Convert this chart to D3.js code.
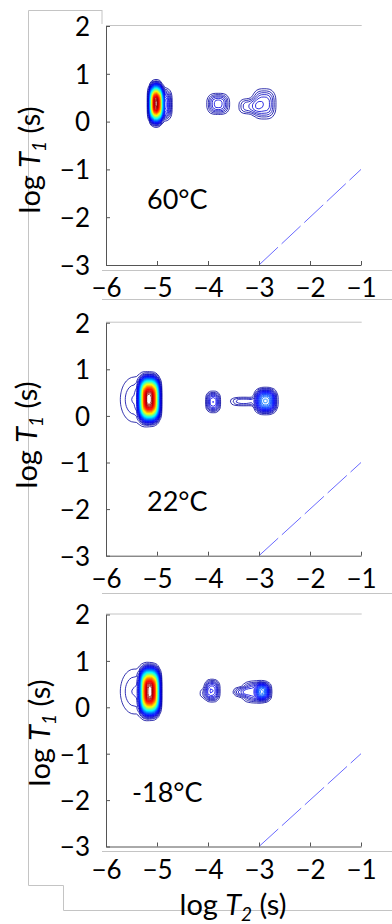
<!DOCTYPE html>
<html>
<head>
<meta charset="utf-8">
<script src="https://cdn.jsdelivr.net/npm/d3@7"></script>
<style>
  body { margin: 0; background: #fff; }
  svg { display: block; font-family: Lato, "Open Sans", sans-serif; }
</style>
</head>
<body>
<div id="chart"></div>
<script>
// axis ticks (log10 of seconds)
const t2Ticks = [-6, -5, -4, -3, -2, -1];
const t1Ticks = [-3, -2, -1, 0, 1, 2];
const temperatures = ['60°C', '22°C', '-18°C'];

// peak components:
// [logT2, logT1, spreadT2, spreadT1, amplitude, shape exponent]
const peaks60 = [
  [-5.02, 0.38, 0.08, 0.25, 1.0, 3],
  [-4.86, 0.36, 0.1, 0.22, 0.14, 3],
  [-3.8, 0.37, 0.15, 0.15, 0.1, 3],
  [-3.2, 0.32, 0.15, 0.12, 0.06, 3],
  [-2.9, 0.37, 0.16, 0.22, 0.09, 3]
];
const peaks22 = [
  [-5.15, 0.36, 0.13, 0.31, 1.0, 3.3],
  [-5.45, 0.35, 0.2, 0.36, 0.05, 2],
  [-3.9, 0.3, 0.095, 0.15, 0.12, 3],
  [-3.3, 0.31, 0.2, 0.07, 0.06, 3],
  [-2.87, 0.32, 0.14, 0.17, 0.25, 3]
];
const peaksM18 = [
  [-5.14, 0.34, 0.125, 0.33, 1.0, 3.3],
  [-5.45, 0.34, 0.2, 0.36, 0.05, 2],
  [-3.92, 0.36, 0.1, 0.16, 0.12, 3],
  [-4.08, 0.3, 0.08, 0.09, 0.03, 3],
  [-3.35, 0.33, 0.12, 0.07, 0.06, 3],
  [-3.05, 0.33, 0.2, 0.16, 0.1, 3],
  [-2.93, 0.34, 0.09, 0.12, 0.15, 3]
];
const panelPeaks = [peaks60, peaks22, peaksM18];
// T1 = T2 guide line
const diagT2 = [-3, -1];

const width = 392, height = 924;
const xRange = [106, 361];
const panels = [
  { top: 26, bottom: 265, titleX: 40, titleY: 160, labelX: 147, labelY: 209 },
  { top: 322.7, bottom: 555.7, titleX: 37, titleY: 435, labelX: 147, labelY: 511 },
  { top: 614.5, bottom: 846.5, titleX: 50, titleY: 733, labelX: 132, labelY: 802 }
];
const frameColor = '#c4c4c4';
const axisColor = '#555';

const jet = d3.scaleLinear()
  .domain([0, 0.125, 0.375, 0.625, 0.875, 1])
  .range(['#000085', '#0000ff', '#00ffff', '#ffff00', '#ff0000', '#800000']);

const svg = d3.select('#chart').append('svg')
  .attr('width', width).attr('height', height);

// figure frame lines
const frame = svg.append('g').attr('fill', 'none').attr('stroke', frameColor).attr('stroke-width', 1);
frame.append('path').attr('d', 'M102,10.5H28.5V885.5H63.5V910.5H392');
[270.5, 299.5, 593.5, 851.5].forEach((y) => {
  frame.append('line').attr('x1', 102).attr('x2', 392).attr('y1', y).attr('y2', y);
});
frame.append('line').attr('x1', 102).attr('x2', 102).attr('y1', 10).attr('y2', 24);

const x = d3.scaleLinear().domain([-6, -1]).range(xRange);

// density grid
const step = 0.05;
const nx = Math.round(5 / step) + 1, ny = nx;
function density(peaks) {
  const values = new Float64Array(nx * ny);
  for (let j = 0; j < ny; j++) {
    const t1 = -3 + j * step;
    for (let i = 0; i < nx; i++) {
      const t2 = -6 + i * step;
      let v = 0;
      peaks.forEach(([c2, c1, s2, s1, a, e]) => {
        const u = Math.abs((t2 - c2) / s2), w = Math.abs((t1 - c1) / s1);
        v += a * Math.exp(-0.5 * (Math.pow(u, e) + Math.pow(w, e)));
      });
      values[j * nx + i] = v;
    }
  }
  return values;
}

panels.forEach((p, k) => {
  const y = d3.scaleLinear().domain([-3, 2]).range([p.bottom, p.top]);
  const g = svg.append('g');

  // top box edge
  g.append('line')
    .attr('x1', xRange[0]).attr('x2', xRange[1] + 0.7)
    .attr('y1', p.top - 0.5).attr('y2', p.top - 0.5)
    .attr('stroke', frameColor);

  // contours
  const values = density(panelPeaks[k]);
  const vmax = d3.max(values);
  const nLevels = 70;
  const levels = d3.range(nLevels).map((i) => vmax * (0.02 + (0.96 * i) / (nLevels - 1)));
  const contours = d3.contours().size([nx, ny]).thresholds(levels)(values);
  const proj = d3.geoTransform({
    point: function (cx, cy) {
      this.stream.point(x(-6 + (cx - 0.5) * step), y(-3 + (cy - 0.5) * step));
    }
  });
  const path = d3.geoPath(proj);
  g.append('g')
    .selectAll('path')
    .data(contours)
    .join('path')
    .attr('d', path)
    .attr('fill', 'none')
    .attr('stroke', (d) => jet(d.value / vmax))
    .attr('stroke-width', 0.8);

  // T1 = T2 dashed line
  g.append('line')
    .attr('x1', x(diagT2[0])).attr('y1', y(diagT2[0]))
    .attr('x2', x(diagT2[1])).attr('y2', y(diagT2[1]))
    .attr('stroke', '#6a6aff').attr('stroke-width', 1)
    .attr('stroke-dasharray', '26,5');

  // axes
  const xAxis = g.append('g')
    .attr('transform', `translate(0,${p.bottom})`)
    .call(d3.axisBottom(x).tickValues(t2Ticks).tickSizeInner(-4).tickSizeOuter(0).tickPadding(8).tickFormat(d3.format('d')));
  const yAxis = g.append('g')
    .attr('transform', `translate(${xRange[0]},0)`)
    .call(d3.axisLeft(y).tickValues(t1Ticks).tickSizeInner(-4).tickSizeOuter(0).tickPadding(16).tickFormat(d3.format('d')));
  [xAxis, yAxis].forEach((ax) => {
    ax.select('.domain').attr('stroke', axisColor);
    ax.selectAll('.tick line').attr('stroke', axisColor);
    ax.selectAll('.tick text')
      .attr('fill', '#000')
      .style('font-size', '26px')
      .style('font-family', 'Lato, sans-serif');
  });
  xAxis.selectAll('.tick text').attr('dy', null).attr('y', 32);
  yAxis.selectAll('.tick text').attr('x', -16).attr('dy', '0.36em');

  // y title
  const title = g.append('text')
    .attr('transform', `translate(${p.titleX},${p.titleY}) rotate(-90)`)
    .attr('text-anchor', 'middle')
    .style('font-size', '29px');
  title.append('tspan').text('log ');
  title.append('tspan').attr('font-style', 'italic').text('T');
  title.append('tspan').attr('font-style', 'italic').attr('font-size', '19px').attr('dy', 6).text('1');
  title.append('tspan').attr('dy', -6).text(' (s)');

  // temperature label
  g.append('text')
    .attr('x', p.labelX).attr('y', p.labelY)
    .style('font-size', '27px')
    .text(temperatures[k]);
});

// x title
const xt = svg.append('text')
  .attr('x', 233).attr('y', 915)
  .attr('text-anchor', 'middle')
  .style('font-size', '29px');
xt.append('tspan').text('log ');
xt.append('tspan').attr('font-style', 'italic').text('T');
xt.append('tspan').attr('font-style', 'italic').attr('font-size', '19px').attr('dy', 6).text('2');
xt.append('tspan').attr('dy', -6).text(' (s)');
</script>
</body>
</html>
